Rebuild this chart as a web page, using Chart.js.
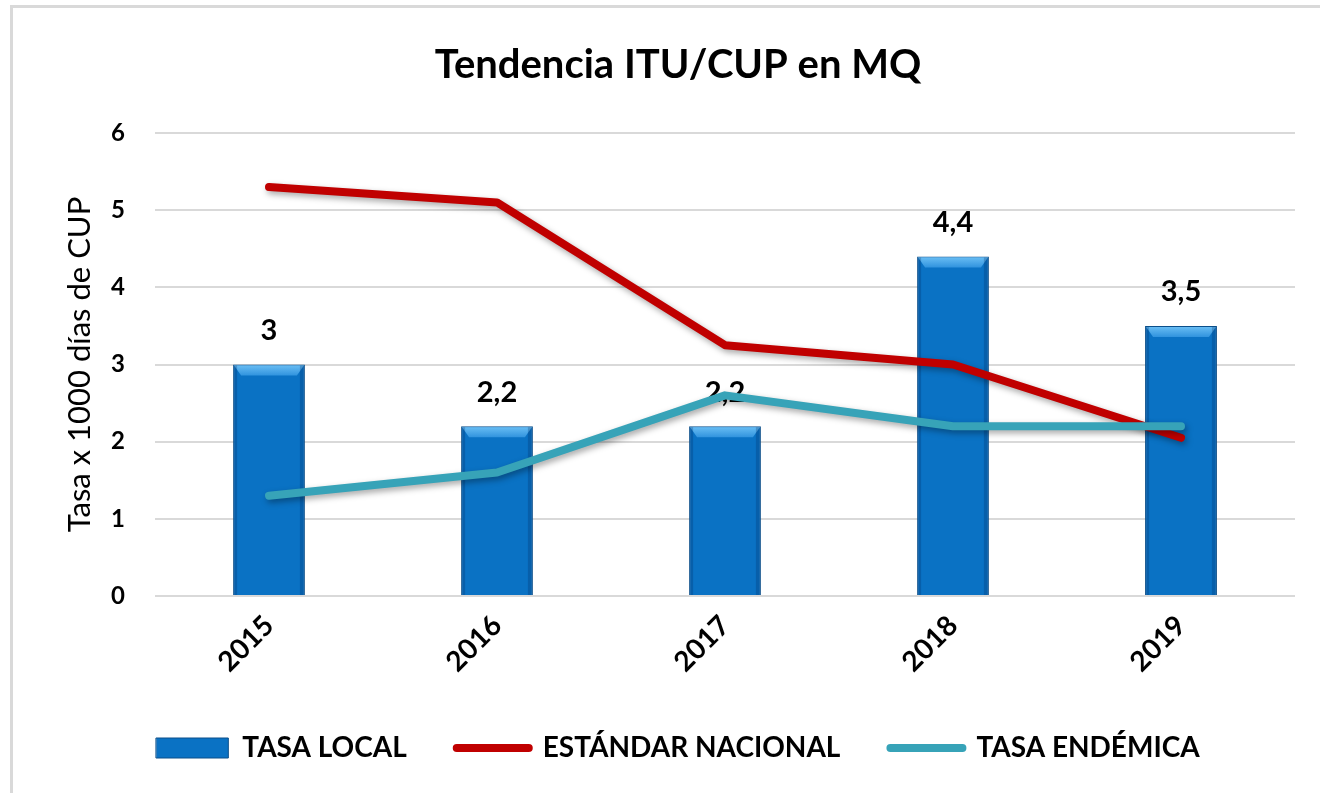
<!DOCTYPE html>
<html>
<head>
<meta charset="utf-8">
<script src="https://cdn.jsdelivr.net/npm/chart.js@4.4.1/dist/chart.umd.min.js"></script>
<style>
  html, body { margin: 0; padding: 0; background: #fff; overflow: hidden; }
  #frame { position: absolute; left: 10px; top: 5px; width: 1330px; height: 820px; border: 3px solid #d9d9d9; box-sizing: border-box; }
  #wrap { position: absolute; left: 0; top: 0; width: 1320px; height: 793px; }
</style>
</head>
<body>
<div id="frame"></div>
<div id="wrap"><canvas id="chart" width="1320" height="793"></canvas></div>
<script>
/* Tendencia ITU/CUP: barras de tasa local con líneas de estándar y tasa endémica. */
const years = ['2015', '2016', '2017', '2018', '2019'];
const tasaLocal = [3, 2.2, 2.2, 4.4, 3.5];
const estandarNacional = [5.3, 5.1, 3.25, 3.0, 2.05];
const tasaEndemica = [1.3, 1.6, 2.6, 2.2, 2.2];
const yTicks = [0, 1, 2, 3, 4, 5, 6];

const FONT = 'Lato, "Open Sans", sans-serif';
const BLUE = '#0a72c4';
const RED = '#c00000';
const TEAL = '#37a3b8';

const fmt = v => String(v).replace('.', ',');

// bisel superior de las barras + etiquetas de valor
const barDecor = {
  id: 'barDecor',
  afterDatasetDraw(chart, args) {
    if (args.index !== 0) return;
    const { ctx } = chart;
    ctx.save();
    args.meta.data.forEach((bar, i) => {
      const half = bar.width / 2;
      const left = bar.x - half, right = bar.x + half, top = bar.y;
      const g = ctx.createLinearGradient(0, top, 0, top + 12);
      g.addColorStop(0, '#6cc0f5');
      g.addColorStop(1, '#2b8fdc');
      ctx.fillStyle = g;
      ctx.beginPath();
      ctx.moveTo(left + 1, top + 1);
      ctx.lineTo(right - 1, top + 1);
      ctx.lineTo(right - 8, top + 11);
      ctx.lineTo(left + 8, top + 11);
      ctx.closePath();
      ctx.fill();
      // sombreado lateral
      ctx.fillStyle = 'rgba(0,40,90,0.25)';
      ctx.fillRect(right - 5, top + 1, 4, bar.base - top - 1);
      ctx.fillRect(left + 1, top + 1, 3, bar.base - top - 1);

      ctx.fillStyle = '#000';
      ctx.font = 'bold 29px ' + FONT;
      ctx.textAlign = 'center';
      ctx.textBaseline = 'middle';
      ctx.fillText(fmt(tasaLocal[i]), bar.x, top - 34);
    });
    ctx.restore();
  }
};

// sombra suave en las líneas
const lineShadow = {
  id: 'lineShadow',
  beforeDatasetDraw(chart, args) {
    if (args.index === 0) return;
    const { ctx } = chart;
    ctx.save();
    ctx.shadowColor = 'rgba(0,0,0,0.35)';
    ctx.shadowBlur = 6;
    ctx.shadowOffsetX = 2;
    ctx.shadowOffsetY = 3;
  },
  afterDatasetDraw(chart, args) {
    if (args.index === 0) return;
    chart.ctx.restore();
  }
};

new Chart(document.getElementById('chart'), {
  type: 'bar',
  data: {
    labels: years,
    datasets: [
      {
        type: 'bar',
        label: 'TASA LOCAL',
        data: tasaLocal,
        backgroundColor: BLUE,
        borderColor: '#0b4f8a',
        borderWidth: 1,
        barPercentage: 0.63,
        categoryPercentage: 0.5,
        order: 2
      },
      {
        type: 'line',
        label: 'ESTÁNDAR NACIONAL',
        data: estandarNacional,
        borderColor: RED,
        backgroundColor: RED,
        borderWidth: 8,
        borderCapStyle: 'round',
        borderJoinStyle: 'round',
        pointRadius: 0,
        tension: 0,
        order: 1
      },
      {
        type: 'line',
        label: 'TASA ENDÉMICA',
        data: tasaEndemica,
        borderColor: TEAL,
        backgroundColor: TEAL,
        borderWidth: 8,
        borderCapStyle: 'round',
        borderJoinStyle: 'round',
        pointRadius: 0,
        tension: 0,
        order: 0
      }
    ]
  },
  options: {
    responsive: false,
    animation: false,
    layout: { padding: { top: 0, right: 25, bottom: 21, left: 61 } },
    plugins: {
      tooltip: { enabled: false },
      title: {
        display: true,
        text: 'Tendencia ITU/CUP en MQ',
        color: '#000',
        font: { family: FONT, size: 40, weight: 'bold' },
        padding: { top: 41, bottom: 44 }
      },
      legend: {
        position: 'bottom',
        labels: {
          color: '#000',
          font: { family: FONT, size: 28, weight: 'bold' },
          usePointStyle: true,
          pointStyleWidth: 72,
          boxHeight: 20,
          padding: 50,
          generateLabels(chart) {
            return chart.data.datasets.map((ds, i) => ({
              text: ds.label,
              fillStyle: ds.backgroundColor,
              strokeStyle: ds.borderColor,
              lineWidth: ds.borderWidth,
              lineCap: 'round',
              pointStyle: ds.type === 'bar' ? 'rect' : 'line',
              fontColor: '#000',
              datasetIndex: i
            }));
          }
        }
      }
    },
    scales: {
      x: {
        grid: { display: false },
        border: { display: false },
        afterFit(scale) {
          scale.height = 88;
          scale.paddingLeft = 0;
          scale.paddingRight = 0;
        },
        ticks: {
          color: '#000',
          font: { family: FONT, size: 28, weight: 'bold' },
          minRotation: 45,
          maxRotation: 45,
          padding: 5
        }
      },
      y: {
        min: yTicks[0],
        max: yTicks[yTicks.length - 1],
        afterBuildTicks(scale) { scale.ticks = yTicks.map(v => ({ value: v })); },
        afterFit(scale) { scale.width = 94; },
        grid: { color: '#d9d9d9', lineWidth: 2, drawTicks: false },
        border: { display: false },
        ticks: {
          color: '#000',
          font: { family: FONT, size: 24, weight: 'bold' },
          padding: 30
        },
        title: {
          display: true,
          text: 'Tasa x 1000 días de CUP',
          color: '#000',
          font: { family: FONT, size: 31 },
          padding: { top: 0, bottom: 10 }
        }
      }
    }
  },
  plugins: [lineShadow, barDecor]
});
</script>
</body>
</html>
